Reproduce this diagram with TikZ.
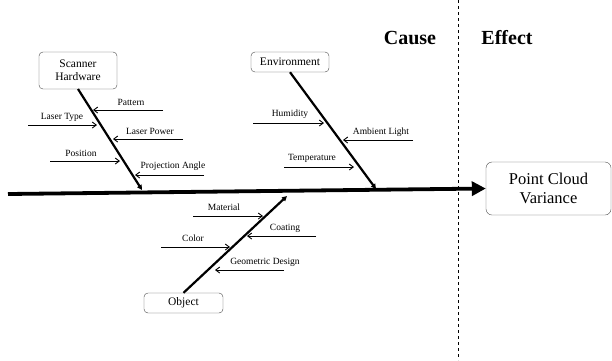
\documentclass[tikz,border=0pt]{standalone}
\usepackage{fontspec}
\setmainfont{Liberation Serif}
\newfontfamily\tnr{Liberation Serif}
\usetikzlibrary{arrows.meta}
\begin{document}
\begin{tikzpicture}[x=1pt,y=-1pt,every node/.style={font=\tnr},
  catbox/.style={draw=black!70,rounded corners=4pt,fill=white,inner sep=0pt,align=center,font=\tnr\fontsize{11.5}{13}\selectfont},
  sublbl/.style={font=\tnr\fontsize{9.5}{10}\selectfont,inner sep=0pt},
  subarrow/.style={line width=0.9pt,-{Straight Barb[length=4pt,width=6pt]}},
  bone/.style={line width=2.2pt,-{Triangle[length=5pt,width=5pt]}},
  head/.style={font=\tnr\bfseries\fontsize{20}{22}\selectfont}]
\useasboundingbox (0,0) rectangle (612,360);
% divider
\draw[dashed,line width=0.9pt] (458,0) -- (458,360);
\node[head] (cause) at (410,38) {Cause};
\node[head] (effect) at (507,38) {Effect};
% effect box
\node[draw=black!70,rounded corners=6pt,minimum width=125pt,minimum height=53pt,align=center,font=\tnr\fontsize{16.5}{19}\selectfont] (pcv) at (548.5,188.5) {Point Cloud\\Variance};
% spine
\coordinate (s0) at (8,194);
\draw[line width=3.8pt,-{Triangle[length=14pt,width=14pt]}] (s0) -- (pcv.west);
% Scanner Hardware
\node[catbox,minimum width=78pt,minimum height=37pt] (sh) at (78,70.5) {Scanner\\Hardware};
\coordinate (shend) at (142,190);
\draw[bone] (78,89) -- (shend);
\coordinate (a1) at (163,110); \coordinate (b1) at (93,110);
\draw[subarrow] (a1) -- (b1); \node[sublbl] (l1) at (131,102) {Pattern};
\coordinate (a2) at (28,125); \coordinate (b2) at (97,125);
\draw[subarrow] (a2) -- (b2); \node[sublbl] (l2) at (62,117) {Laser Type};
\coordinate (a3) at (183,139); \coordinate (b3) at (113,139);
\draw[subarrow] (a3) -- (b3); \node[sublbl] (l3) at (150,131) {Laser Power};
\coordinate (a4) at (50,161); \coordinate (b4) at (120,161);
\draw[subarrow] (a4) -- (b4); \node[sublbl] (l4) at (81,153) {Position};
\coordinate (a5) at (204,175); \coordinate (b5) at (135,175);
\draw[subarrow] (a5) -- (b5); \node[sublbl] (l5) at (173,166) {Projection Angle};
% Environment
\node[catbox,minimum width=78pt,minimum height=20pt] (env) at (290,62) {Environment};
\coordinate (envend) at (376,189);
\draw[bone] (env.south) -- (envend);
\coordinate (a6) at (253,123); \coordinate (b6) at (324,123);
\draw[subarrow] (a6) -- (b6); \node[sublbl] (l6) at (290,114) {Humidity};
\coordinate (a7) at (413,140); \coordinate (b7) at (343,140);
\draw[subarrow] (a7) -- (b7); \node[sublbl] (l7) at (381,132) {Ambient Light};
\coordinate (a8) at (284,167); \coordinate (b8) at (354,167);
\draw[subarrow] (a8) -- (b8); \node[sublbl] (l8) at (312,158) {Temperature};
% Object
\node[catbox,minimum width=79pt,minimum height=20pt] (obj) at (183.5,303) {Object};
\coordinate (objend) at (287,196);
\draw[bone] (obj.north) -- (objend);
\coordinate (a9) at (193,216); \coordinate (b9) at (263,216);
\draw[subarrow] (a9) -- (b9); \node[sublbl] (l9) at (224,207) {Material};
\coordinate (a10) at (316,236); \coordinate (b10) at (247,236);
\draw[subarrow] (a10) -- (b10); \node[sublbl] (l10) at (285,228) {Coating};
\coordinate (a11) at (161,247); \coordinate (b11) at (230,247);
\draw[subarrow] (a11) -- (b11); \node[sublbl] (l11) at (193,238) {Color};
\coordinate (a12) at (284,270); \coordinate (b12) at (215,270);
\draw[subarrow] (a12) -- (b12); \node[sublbl] (l12) at (265,262) {Geometric Design};
\end{tikzpicture}
\end{document}
